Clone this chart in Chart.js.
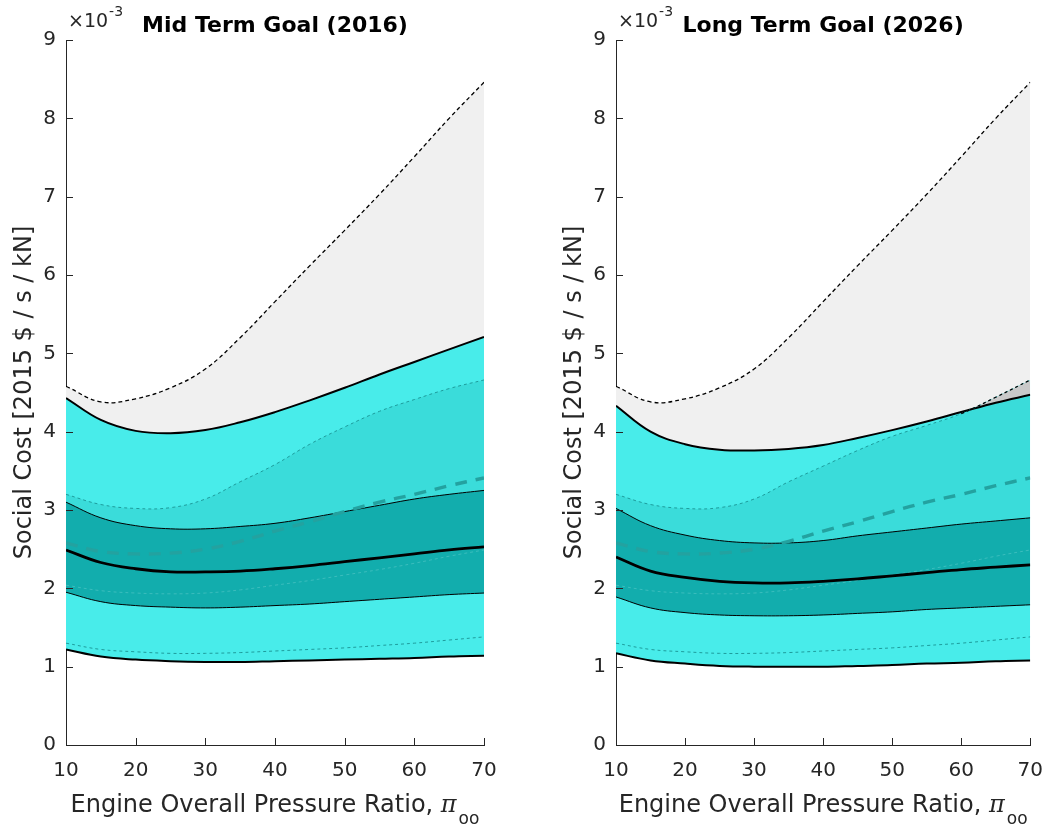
<!DOCTYPE html>
<html>
<head>
<meta charset="utf-8">
<script src="https://cdn.jsdelivr.net/npm/chart.js@4/dist/chart.umd.min.js"></script>
<style>
  html, body { margin: 0; padding: 0; background: #fff; }
  #wrap { position: relative; width: 1049px; height: 828px; }
  #wrap canvas { position: absolute; left: 0; top: 0; }
</style>
</head>
<body>
<div id="wrap">
  <canvas id="midChart" width="1049" height="828"></canvas>
  <canvas id="longChart" width="1049" height="828"></canvas>
</div>
<script>
// Pressure ratio sample points
const pressureRatio = [10, 15, 20, 25, 30, 35, 40, 45, 50, 55, 60, 65, 70];
const xTicks = [10, 20, 30, 40, 50, 60, 70];
const yTicks = [0, 1, 2, 3, 4, 5, 6, 7, 8, 9];

// Baseline (dashed) distribution, same in both panels  [x 10^-3]
const maxDashed      = [4.58, 4.38, 4.42, 4.56, 4.80, 5.20, 5.66, 6.12, 6.57, 7.03, 7.51, 8.00, 8.46];
const meanDashed     = [2.58, 2.47, 2.44, 2.45, 2.50, 2.60, 2.73, 2.85, 2.98, 3.10, 3.20, 3.31, 3.41];
const innerLowDashed = [2.04, 1.97, 1.94, 1.93, 1.94, 1.98, 2.04, 2.10, 2.17, 2.24, 2.32, 2.41, 2.49];
const lowTailDashed  = [1.30, 1.22, 1.19, 1.17, 1.17, 1.18, 1.20, 1.22, 1.24, 1.27, 1.30, 1.34, 1.38];

// Mid term goal (2016)
const midUpperThin  = [3.20, 3.07, 3.02, 3.03, 3.14, 3.36, 3.58, 3.84, 4.06, 4.26, 4.41, 4.55, 4.66];
const midUpper      = [4.43, 4.15, 4.01, 3.98, 4.02, 4.12, 4.25, 4.40, 4.56, 4.73, 4.89, 5.05, 5.21];
const midDarkTop    = [3.10, 2.90, 2.80, 2.76, 2.76, 2.79, 2.83, 2.90, 2.98, 3.06, 3.14, 3.20, 3.25];
const midMedian     = [2.49, 2.33, 2.25, 2.21, 2.21, 2.22, 2.25, 2.29, 2.34, 2.39, 2.44, 2.49, 2.53];
const midDarkBottom = [1.95, 1.83, 1.78, 1.76, 1.75, 1.76, 1.78, 1.80, 1.83, 1.86, 1.89, 1.92, 1.94];
const midLower      = [1.22, 1.13, 1.09, 1.07, 1.06, 1.06, 1.07, 1.08, 1.09, 1.10, 1.11, 1.13, 1.14];

// Long term goal (2026)
const longUpperThin  = [3.20, 3.07, 3.02, 3.03, 3.14, 3.36, 3.56, 3.76, 3.94, 4.08, 4.23, 4.44, 4.66];
const longUpper      = [4.33, 4.00, 3.84, 3.77, 3.76, 3.78, 3.83, 3.92, 4.02, 4.13, 4.25, 4.37, 4.47];
const longDarkTop    = [3.02, 2.80, 2.68, 2.61, 2.58, 2.58, 2.61, 2.67, 2.72, 2.77, 2.82, 2.86, 2.90];
const longMedian     = [2.40, 2.22, 2.14, 2.09, 2.07, 2.07, 2.09, 2.12, 2.16, 2.20, 2.24, 2.27, 2.30];
const longDarkBottom = [1.89, 1.75, 1.69, 1.66, 1.65, 1.65, 1.66, 1.68, 1.70, 1.73, 1.75, 1.77, 1.79];
const longLower      = [1.17, 1.08, 1.04, 1.01, 1.00, 1.00, 1.00, 1.01, 1.02, 1.04, 1.05, 1.07, 1.08];

const FONT = '"DejaVu Sans", "Liberation Sans", Arial, sans-serif';
const TEXT = '#262626';
const TEAL_LINE = '#1E9C9C';

function pts(arr) {
  return pressureRatio.map((x, i) => ({ x, y: arr[i] }));
}

// Tick marks pointing inward + titles (MATLAB look)
const axisDecor = {
  id: 'axisDecor',
  afterDraw(chart, args, opts) {
    const { ctx, chartArea: a, scales: { x, y } } = chart;
    ctx.save();
    ctx.strokeStyle = TEXT;
    ctx.lineWidth = 1;
    ctx.beginPath();
    xTicks.forEach(v => {
      const px = Math.round(x.getPixelForValue(v)) + 0.5;
      ctx.moveTo(px, a.bottom);
      ctx.lineTo(px, a.bottom - 7);
    });
    yTicks.forEach(v => {
      const py = Math.round(y.getPixelForValue(v)) + 0.5;
      ctx.moveTo(a.left, py);
      ctx.lineTo(a.left + 7, py);
    });
    ctx.stroke();

    const cx = (a.left + a.right) / 2;
    const cy = (a.top + a.bottom) / 2;

    // exponent label
    ctx.fillStyle = TEXT;
    ctx.textBaseline = 'alphabetic';
    ctx.textAlign = 'left';
    ctx.font = '19px ' + FONT;
    ctx.fillText('\u00d710', a.left + 2, 27);
    const w10 = ctx.measureText('\u00d710').width;
    ctx.font = '14px ' + FONT;
    ctx.fillText('-3', a.left + 2 + w10 + 1, 16);

    // title
    ctx.fillStyle = '#000';
    ctx.font = 'bold 22px ' + FONT;
    ctx.textAlign = 'center';
    ctx.fillText(opts.title, cx, 32);

    // y title
    ctx.fillStyle = TEXT;
    ctx.save();
    ctx.translate(a.left - 41, cy);
    ctx.rotate(-Math.PI / 2);
    ctx.font = '24px ' + FONT;
    ctx.textAlign = 'center';
    ctx.textBaseline = 'middle';
    ctx.fillText('Social Cost [2015 $ / s / kN]', 0, 0);
    ctx.restore();

    // x title with subscript
    const main = 'Engine Overall Pressure Ratio, ';
    ctx.font = '24px ' + FONT;
    const wMain = ctx.measureText(main).width;
    ctx.font = 'italic 24px "DejaVu Serif", serif';
    const wPi = ctx.measureText('\u03c0').width;
    ctx.font = '17px ' + FONT;
    const wSub = ctx.measureText('oo').width;
    let sx = cx - (wMain + wPi + wSub + 2) / 2;
    ctx.textAlign = 'left';
    ctx.textBaseline = 'alphabetic';
    ctx.font = '24px ' + FONT;
    ctx.fillText(main, sx, 812);
    sx += wMain;
    ctx.font = 'italic 24px "DejaVu Serif", serif';
    ctx.fillText('\u03c0', sx, 812);
    sx += wPi + 2;
    ctx.font = '17px ' + FONT;
    ctx.fillText('oo', sx, 824);
    ctx.restore();
  }
};

function renderPanel(id, title, padding, d) {
  const ctx = document.getElementById(id).getContext('2d');
  const line = (data, color, width, dash) => ({
    data: pts(data),
    borderColor: color,
    borderWidth: width,
    borderDash: dash || [],
    fill: false
  });

  return new Chart(ctx, {
    type: 'line',
    data: {
      datasets: [
        /* 0 */ line(d.median, '#000', 2.8),
        /* 1 */ line(meanDashed, '#23A2A0', 3.4, [12, 9]),
        /* 2 */ line(innerLowDashed, '#3BBDBD', 1, [3, 3]),
        /* 3 */ Object.assign(line(d.darkTop, '#000', 1), { fill: { target: 4 }, backgroundColor: '#12ADAD' }),
        /* 4 */ line(d.darkBottom, '#000', 1),
        // part of the dashed upper curve that rises above the solid band: grey wedge + black dashes
        /* 5 */ Object.assign(line(d.upperThin, 'rgba(0,0,0,0)', 1.2, [3, 3]), {
                  fill: { target: 7, above: '#C9C9C9', below: 'rgba(0,0,0,0)' },
                  segment: {
                    borderColor: c => (c.p1.parsed.y > d.upper[c.p1DataIndex] ? '#000' : undefined)
                  }
                }),
        /* 6 */ Object.assign(line(d.upperThin, TEAL_LINE, 1, [3, 3]), {
                  fill: { target: 2 },
                  backgroundColor: '#3ADCDA'
                }),
        /* 7 */ Object.assign(line(d.upper, '#000', 2), { fill: { target: 8 }, backgroundColor: '#48ECEA' }),
        /* 8 */ line(d.lower, '#000', 2),
        /* 9 */ line(lowTailDashed, TEAL_LINE, 1, [3, 3]),
        /* 10 */ Object.assign(line(maxDashed, '#000', 1.3, [4, 3]), { fill: { target: 7 }, backgroundColor: '#F0F0F0' })
      ]
    },
    options: {
      responsive: false,
      animation: false,
      events: [],
      elements: {
        point: { radius: 0 },
        line: { tension: 0.4 }
      },
      layout: { padding },
      plugins: {
        legend: { display: false },
        tooltip: { enabled: false },
        filler: { drawTime: 'beforeDatasetsDraw' },
        axisDecor: { title }
      },
      scales: {
        x: {
          type: 'linear',
          min: 10,
          max: 70,
          grid: { display: false },
          border: { display: true, color: TEXT, width: 1 },
          ticks: {
            stepSize: 10,
            autoSkip: false,
            maxRotation: 0,
            padding: 6,
            color: TEXT,
            font: { size: 20, family: FONT }
          },
          afterFit: s => { s.height = 83; }
        },
        y: {
          min: 0,
          max: 9,
          grid: { display: false },
          border: { display: true, color: TEXT, width: 1 },
          ticks: {
            stepSize: 1,
            padding: 2,
            color: TEXT,
            font: { size: 20, family: FONT }
          },
          afterFit: s => { s.width = 66; }
        }
      }
    },
    plugins: [axisDecor]
  });
}

renderPanel('midChart', 'Mid Term Goal (2016)', { left: 0, right: 565, top: 40, bottom: 0 }, {
  upperThin: midUpperThin, upper: midUpper, darkTop: midDarkTop,
  median: midMedian, darkBottom: midDarkBottom, lower: midLower
});

renderPanel('longChart', 'Long Term Goal (2026)', { left: 550, right: 16, top: 40, bottom: 0 }, {
  upperThin: longUpperThin, upper: longUpper, darkTop: longDarkTop,
  median: longMedian, darkBottom: longDarkBottom, lower: longLower
});
</script>
</body>
</html>
